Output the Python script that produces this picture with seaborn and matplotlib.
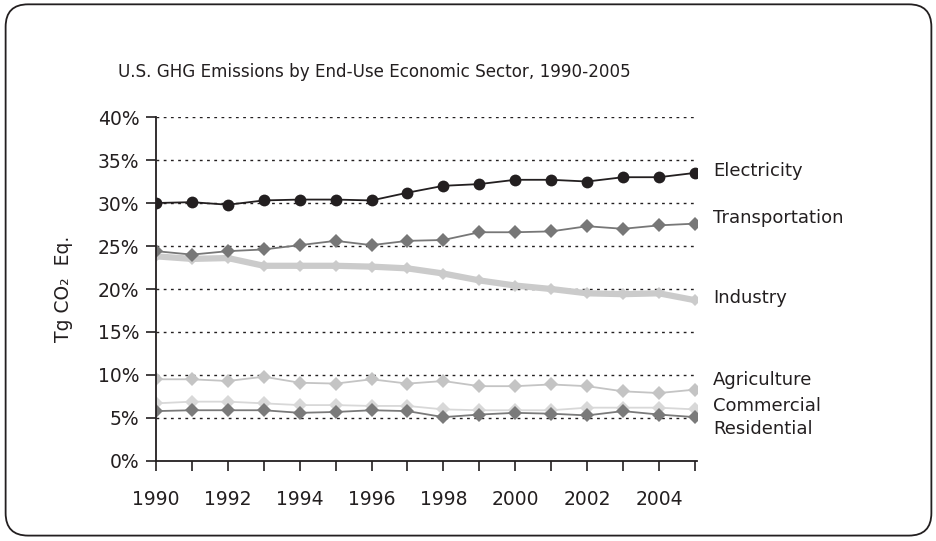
import matplotlib
matplotlib.use("Agg")
import matplotlib.pyplot as plt
import seaborn as sns
import pandas as pd
from matplotlib.patches import FancyBboxPatch
from matplotlib.ticker import FuncFormatter

# Data (share of total, %)
years = list(range(1990, 2006))
electricity = [30.0, 30.1, 29.8, 30.3, 30.4, 30.4, 30.3, 31.2, 32.0, 32.2, 32.7, 32.7, 32.5, 33.0, 33.0, 33.5]
transportation = [24.4, 24.0, 24.4, 24.6, 25.1, 25.6, 25.1, 25.6, 25.7, 26.6, 26.6, 26.7, 27.3, 27.0, 27.4, 27.6]
industry = [23.8, 23.5, 23.6, 22.7, 22.7, 22.7, 22.6, 22.4, 21.8, 21.0, 20.4, 20.0, 19.5, 19.4, 19.5, 18.7]
agriculture = [9.5, 9.5, 9.3, 9.8, 9.1, 9.0, 9.5, 9.0, 9.3, 8.7, 8.7, 8.9, 8.7, 8.1, 7.9, 8.3]
commercial = [6.7, 6.9, 6.9, 6.7, 6.5, 6.5, 6.4, 6.4, 6.0, 5.9, 5.9, 5.9, 6.2, 6.2, 6.2, 6.0]
residential = [5.8, 5.9, 5.9, 5.9, 5.6, 5.7, 5.9, 5.8, 5.1, 5.4, 5.6, 5.5, 5.3, 5.8, 5.4, 5.1]

df = pd.DataFrame({
    "Year": years,
    "Electricity": electricity,
    "Transportation": transportation,
    "Industry": industry,
    "Agriculture": agriculture,
    "Commercial": commercial,
    "Residential": residential,
})

sns.set_style("white")
plt.rcParams["font.family"] = ["DejaVu Sans"]
txt = "#231f20"

fig = plt.figure(figsize=(9.37, 5.41), dpi=100)
ax = fig.add_axes([0.1665, 0.1479, 0.577, 0.6358])

# rounded frame around the whole chart
frame = FancyBboxPatch((0.006, 0.01), 0.988, 0.982, boxstyle="round,pad=0,rounding_size=0.024",
                       transform=fig.transFigure, fill=False, edgecolor=txt, linewidth=1.3,
                       mutation_aspect=937 / 541)
fig.patches.append(frame)

# gridlines
for v in range(5, 45, 5):
    ax.axhline(v, color=txt, linestyle=(0, (2, 3.2)), linewidth=1.0, zorder=0)

sns.lineplot(data=df, x="Year", y="Industry", ax=ax, color="#cbcbcb", lw=4.5,
             marker="D", markersize=6.5, markeredgewidth=0)
sns.lineplot(data=df, x="Year", y="Agriculture", ax=ax, color="#c4c4c4", lw=1.3,
             marker="D", markersize=7.5, markeredgewidth=0)
sns.lineplot(data=df, x="Year", y="Commercial", ax=ax, color="#d8d8d8", lw=1.3,
             marker="D", markersize=7.5, markeredgewidth=0)
sns.lineplot(data=df, x="Year", y="Residential", ax=ax, color="#7a7a7a", lw=1.3,
             marker="D", markersize=7.5, markeredgewidth=0)
sns.lineplot(data=df, x="Year", y="Transportation", ax=ax, color="#777777", lw=1.3,
             marker="D", markersize=7.5, markeredgewidth=0)
sns.lineplot(data=df, x="Year", y="Electricity", ax=ax, color=txt, lw=1.3,
             marker="o", markersize=8.5, markeredgewidth=0)

ax.set_xlim(1990, 2005.05)
ax.set_ylim(0, 40)
ax.set_yticks(range(0, 45, 5))
ax.yaxis.set_major_formatter(FuncFormatter(lambda v, p: f"{int(v)}%"))
ax.set_xticks(years, minor=True)
ax.set_xticks(range(1990, 2005, 2))
for s in ["top", "right"]:
    ax.spines[s].set_visible(False)
for s in ["left", "bottom"]:
    ax.spines[s].set_color(txt)
    ax.spines[s].set_linewidth(1.3)
ax.tick_params(axis="both", which="both", direction="out", length=7, width=1.2, color=txt,
               labelcolor=txt, labelsize=13.5, left=True, bottom=True)
ax.tick_params(axis="x", pad=14)
ax.tick_params(axis="y", pad=5)

ax.set_xlabel("")
ax.set_ylabel("Tg CO\u2082  Eq.", fontsize=13.5, color=txt, labelpad=18)

fig.text(0.126, 0.866, "U.S. GHG Emissions by End-Use Economic Sector, 1990-2005",
         fontsize=12.1, color=txt, va="center")

# series labels at the right
labels = [("Electricity", 171), ("Transportation", 218), ("Industry", 298),
          ("Agriculture", 380), ("Commercial", 406), ("Residential", 429)]
for name, ypix in labels:
    fig.text(713 / 937, 1 - ypix / 541, name, fontsize=13, color=txt, va="center")

fig.savefig("out.png", dpi=100)
